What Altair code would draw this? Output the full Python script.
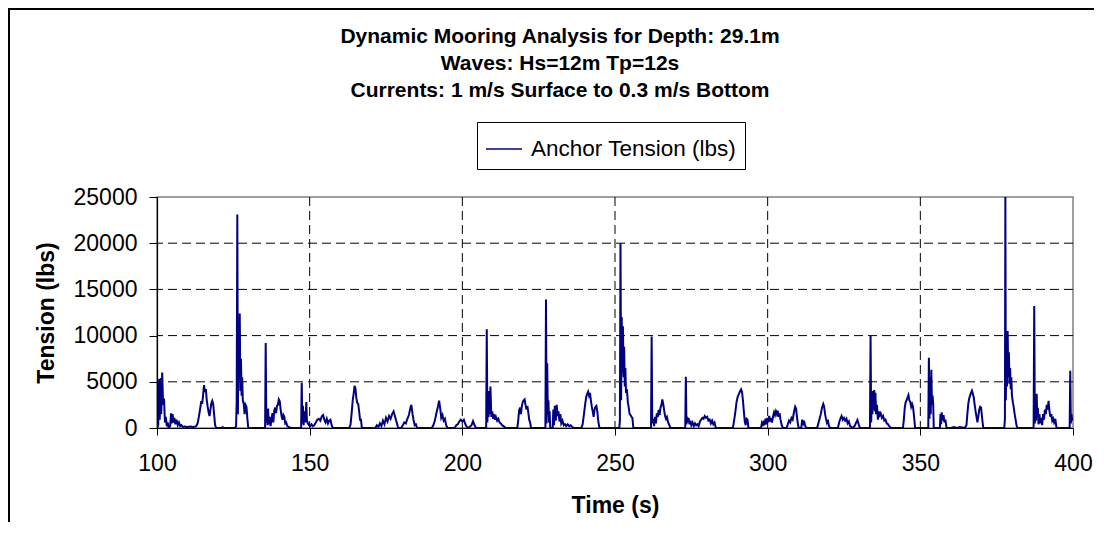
import altair as alt
import pandas as pd

# ---------------- data ----------------
series_name = "Anchor Tension (lbs)"
title_lines = [
    "Dynamic Mooring Analysis for Depth: 29.1m",
    "Waves: Hs=12m Tp=12s",
    "Currents: 1 m/s Surface to 0.3 m/s Bottom",
]
x_ticks = [100, 150, 200, 250, 300, 350, 400]
y_ticks = [0, 5000, 10000, 15000, 20000, 25000]
x_grid = [150, 200, 250, 300, 350]
y_grid = [5000, 10000, 15000, 20000]

# (time s, tension lbs) samples
samples = [
    (100.0, 0), (100.4, 300), (100.7, 5300), (100.9, 900), (101.2, 5400), (101.4, 1500), (101.7, 6000),
    (102.0, 2500), (102.3, 3200), (102.6, 600), (102.9, 1200), (103.2, 200), (103.5, 600), (103.8, 0),
    (104.3, 200), (104.6, 1600), (104.8, 500), (105.1, 1500), (105.4, 600), (105.7, 1100), (106.0, 400),
    (106.4, 900), (106.8, 300), (107.2, 600), (107.6, 200), (108.0, 300), (108.5, 100), (109.0, 150),
    (110.0, 100), (111.0, 150), (112.0, 100), (112.8, 200),
    (113.3, 500), (113.7, 1200), (114.1, 2000), (114.5, 2900), (114.8, 2600), (115.1, 3600), (115.4, 4650),
    (115.7, 3900), (116.0, 4200), (116.3, 3000), (116.6, 2300), (116.9, 1700), (117.2, 1300), (117.5, 2000),
    (117.8, 2700), (118.1, 2950), (118.4, 2600), (118.7, 1500), (119.0, 400), (119.3, 0), (121.0, 0),
    (121.5, 100), (122.0, 0), (125.5, 0),
    (125.9, 200), (126.1, 3000), (126.3, 23100), (126.5, 1500), (126.7, 10500), (126.9, 5200), (127.1, 12400),
    (127.3, 4000), (127.5, 7500), (127.7, 3500), (127.9, 5500), (128.1, 3000), (128.4, 2600), (128.7, 1500),
    (129.0, 2500), (129.3, 2300), (129.6, 1000), (129.9, 0), (135.4, 0),
    (135.6, 9200), (135.8, 600), (136.0, 2000), (136.2, 300), (136.4, 2100), (136.6, 400), (136.9, 1200),
    (137.2, 200), (137.5, 900), (137.8, 1600), (138.1, 600), (138.4, 1900), (138.7, 2200), (139.0, 1600),
    (139.3, 2400), (139.6, 2500), (139.9, 3100), (140.2, 2900), (140.5, 2000), (140.8, 1300), (141.1, 900),
    (141.4, 1400), (141.7, 1200), (142.0, 500), (142.3, 600), (142.7, 200), (143.2, 100), (144.0, 0),
    (147.2, 0),
    (147.4, 4900), (147.6, 500), (147.8, 2400), (148.0, 300), (148.3, 1800), (148.6, 600), (148.9, 2800),
    (149.1, 800), (149.4, 500), (149.8, 300), (150.2, 200), (150.6, 400), (151.0, 200), (151.5, 300),
    (152.0, 600), (152.5, 900), (153.0, 1000), (153.5, 800), (154.0, 1300), (154.4, 1400), (154.8, 900),
    (155.2, 600), (155.6, 1000), (156.0, 500), (156.4, 800), (156.8, 900), (157.2, 300), (157.6, 0),
    (163.0, 0), (163.4, 400), (163.8, 1800), (164.1, 3000), (164.4, 3700), (164.7, 4550), (165.0, 4300),
    (165.3, 3200), (165.6, 2700), (165.9, 2600), (166.2, 1800), (166.5, 900), (166.8, 900), (167.1, 0),
    (171.5, 0), (172.0, 300), (172.5, 100), (173.0, 500), (173.5, 200), (174.0, 800), (174.5, 400),
    (175.0, 1100), (175.5, 700), (176.0, 1300), (176.5, 1000), (177.0, 1500), (177.5, 1800), (178.0, 1200),
    (178.5, 600), (179.0, 0), (180.0, 0), (180.5, 300), (181.0, 600), (181.5, 500), (182.0, 1000),
    (182.5, 1400), (183.0, 2200), (183.3, 2500), (183.7, 1500), (184.0, 900), (184.4, 300), (184.8, 400),
    (185.2, 0), (190.0, 0), (190.5, 300), (191.0, 800), (191.5, 1600), (192.0, 2300), (192.4, 2950),
    (192.8, 2000), (193.1, 1100), (193.5, 1400), (193.9, 800), (194.3, 1000), (194.7, 300), (195.2, 0),
    (197.5, 0), (198.0, 300), (198.5, 400), (199.0, 700), (199.5, 900), (200.0, 700), (200.5, 900),
    (201.0, 400), (201.5, 100), (202.0, 0), (203.0, 300), (203.5, 750), (204.0, 300), (204.5, 0),
    (207.8, 0),
    (208.0, 10700), (208.2, 600), (208.4, 3000), (208.6, 1200), (208.8, 4000), (209.0, 1500), (209.2, 4500),
    (209.5, 1200), (209.8, 1800), (210.1, 1000), (210.4, 1500), (210.7, 900), (211.0, 1200), (211.4, 800),
    (211.8, 1000), (212.2, 600), (212.6, 500), (213.0, 300), (213.5, 200), (214.2, 0),
    (218.0, 0), (218.3, 800), (218.6, 1900), (218.9, 2200), (219.2, 1500), (219.5, 2400), (219.8, 2800),
    (220.1, 3000), (220.4, 3100), (220.7, 2500), (221.0, 2000), (221.3, 2400), (221.6, 1700), (221.9, 900),
    (222.2, 600), (222.5, 0), (227.2, 0),
    (227.4, 13900), (227.6, 500), (227.8, 7000), (228.0, 1500), (228.2, 3000), (228.4, 600), (228.6, 1800),
    (228.8, 0), (229.6, 0), (229.8, 2000), (230.0, 300), (230.3, 2400), (230.6, 800), (230.9, 2500),
    (231.2, 1300), (231.5, 1800), (231.8, 700), (232.1, 1500), (232.4, 500), (232.8, 800), (233.2, 300),
    (233.6, 400), (234.0, 200), (234.5, 400), (235.0, 200), (235.5, 300), (236.0, 100), (236.6, 0),
    (239.0, 0), (239.4, 400), (239.8, 1400), (240.2, 2500), (240.6, 3400), (240.9, 3700), (241.2, 3930),
    (241.5, 3500), (241.8, 3800), (242.1, 3000), (242.4, 2300), (242.7, 1800), (243.0, 1200), (243.3, 2000),
    (243.6, 2300), (243.9, 2400), (244.2, 1800), (244.5, 800), (244.9, 0), (251.4, 0),
    (251.6, 800), (251.8, 20000), (252.0, 3000), (252.2, 12000), (252.4, 6000), (252.6, 11000), (252.8, 5500),
    (253.0, 8800), (253.2, 4500), (253.4, 6500), (253.6, 3800), (253.9, 4200), (254.2, 2800), (254.5, 2200),
    (254.8, 1500), (255.1, 1400), (255.4, 1200), (255.7, 1100), (256.0, 0), (261.8, 0),
    (262.0, 9900), (262.2, 500), (262.5, 1000), (262.8, 200), (263.1, 1200), (263.4, 500), (263.7, 1600),
    (264.0, 1200), (264.3, 1950), (264.6, 1400), (264.9, 2200), (265.2, 2500), (265.5, 3100), (265.8, 2600),
    (266.1, 1900), (266.4, 1300), (266.7, 1000), (267.0, 1200), (267.4, 600), (267.8, 300), (268.2, 0),
    (273.0, 0), (273.2, 5550), (273.4, 400), (273.6, 1200), (273.8, 600), (274.1, 1100), (274.4, 400),
    (274.7, 800), (275.0, 300), (275.4, 600), (275.8, 200), (276.2, 500), (276.6, 300), (277.0, 400),
    (277.4, 200), (277.8, 700), (278.2, 900), (278.6, 1100), (279.0, 1000), (279.4, 1300), (279.8, 1100),
    (280.2, 1200), (280.6, 800), (281.0, 900), (281.4, 500), (281.8, 800), (282.2, 400), (282.6, 600),
    (283.0, 0),
    (288.6, 0), (289.0, 800), (289.4, 1700), (289.8, 2800), (290.2, 3400), (290.6, 3700), (291.0, 4000),
    (291.3, 4180), (291.6, 3900), (291.9, 3000), (292.2, 1800), (292.5, 700), (292.8, 300), (293.1, 1000),
    (293.4, 900), (293.7, 0), (297.8, 0), (298.1, 500), (298.4, 200), (298.7, 800), (299.0, 300),
    (299.3, 1000), (299.6, 400), (299.9, 1100), (300.2, 600), (300.5, 1300), (300.8, 700), (301.1, 1100),
    (301.4, 600), (301.8, 1300), (302.1, 1700), (302.4, 1400), (302.7, 1800), (303.0, 1500), (303.3, 1880),
    (303.6, 1200), (303.9, 1600), (304.2, 900), (304.6, 300), (305.0, 0), (306.2, 0), (306.6, 400),
    (307.0, 800), (307.4, 600), (307.8, 1100), (308.2, 900), (308.6, 1700), (309.0, 2300), (309.3, 2100),
    (309.6, 1200), (309.9, 400), (310.2, 0), (311.0, 0), (311.3, 900), (311.6, 300), (311.9, 800),
    (312.3, 200), (312.7, 0), (316.2, 0), (316.6, 500), (317.0, 1000), (317.4, 1500), (317.8, 2200),
    (318.2, 2600), (318.5, 2300), (318.8, 1500), (319.1, 1000), (319.4, 600), (319.7, 900), (320.0, 300),
    (320.4, 0), (323.0, 0), (323.4, 600), (323.8, 1000), (324.2, 1300), (324.6, 900), (325.0, 1100),
    (325.4, 800), (325.8, 1000), (326.2, 500), (326.6, 700), (327.0, 200), (327.5, 100), (328.0, 0),
    (328.6, 300), (329.0, 600), (329.4, 870), (329.8, 400), (330.2, 0), (333.5, 0),
    (333.7, 10000), (333.9, 600), (334.1, 3500), (334.3, 1500), (334.5, 4000), (334.7, 2000), (334.9, 4100),
    (335.1, 1800), (335.3, 3800), (335.5, 1500), (335.8, 2500), (336.1, 900), (336.4, 1800), (336.7, 1400),
    (337.0, 1600), (337.4, 1100), (337.8, 1300), (338.2, 800), (338.6, 900), (339.0, 500), (339.4, 400),
    (339.8, 200), (340.4, 0), (344.3, 0), (344.6, 900), (344.9, 2200), (345.2, 2800), (345.5, 3000),
    (345.8, 3300), (346.1, 3570), (346.4, 3000), (346.7, 2800), (347.0, 2300), (347.3, 2600), (347.6, 2300),
    (347.9, 1400), (348.3, 0), (352.6, 0), (352.8, 7600), (353.0, 1000), (353.2, 5500), (353.4, 1500),
    (353.6, 6300), (353.8, 2500), (354.0, 3500), (354.2, 2700), (354.4, 0), (356.4, 0), (356.6, 1500),
    (356.8, 400), (357.0, 1700), (357.3, 800), (357.6, 1400), (357.9, 600), (358.2, 900), (358.6, 0),
    (360.0, 0), (361.0, 100), (362.0, 0), (363.0, 100), (364.5, 0), (365.1, 300), (365.4, 1500),
    (365.7, 2600), (366.0, 3200), (366.3, 3500), (366.6, 3800), (366.9, 4040), (367.2, 3700), (367.5, 3300),
    (367.8, 2500), (368.1, 1800), (368.4, 1200), (368.7, 600), (369.0, 1300), (369.3, 2000), (369.6, 2300),
    (369.9, 2200), (370.2, 1200), (370.6, 0), (377.5, 0),
    (377.7, 1000), (377.85, 25000), (378.0, 3000), (378.2, 8000), (378.4, 4500), (378.6, 10500), (378.8, 5500),
    (379.0, 8200), (379.2, 4800), (379.4, 6500), (379.6, 4200), (379.8, 5500), (380.0, 3500), (380.3, 2800),
    (380.6, 2200), (380.9, 1500), (381.2, 900), (381.5, 300), (381.8, 0), (387.1, 0),
    (387.3, 13200), (387.5, 500), (387.7, 2500), (387.9, 800), (388.1, 3700), (388.3, 1200), (388.5, 2200),
    (388.7, 400), (389.0, 1500), (389.3, 500), (389.6, 1100), (389.9, 300), (390.2, 1500), (390.5, 900),
    (390.8, 2000), (391.1, 1500), (391.4, 2500), (391.7, 2000), (392.0, 2950), (392.3, 1800), (392.6, 1200),
    (392.9, 1500), (393.2, 800), (393.5, 1000), (393.8, 600), (394.2, 1000), (394.6, 0), (398.9, 0),
    (399.1, 6200), (399.3, 500), (399.5, 1500), (399.7, 800), (400.0, 1200),
]

# ---------------- chart ----------------
FONT = "Liberation Sans"
W, H = 916, 231
PAD_L, PAD_T = 149, 189

df = pd.DataFrame(samples, columns=["Time", "Tension"])
df["series"] = series_name

xscale = alt.Scale(domain=[100, 400], nice=False, zero=False)
yscale = alt.Scale(domain=[0, 25000], nice=False)

x_axis = alt.Axis(
    values=x_ticks, title="Time (s)", grid=False, tickSize=7, labelPadding=35, format="d",
    labelBaseline="alphabetic", labelFlush=False, labelOverlap=False,
    titleX=458, titleY=84, titleBaseline="alphabetic", titleAlign="center",
)
y_axis = alt.Axis(
    values=y_ticks, title="Tension (lbs)", grid=False, tickSize=8, labelPadding=12, format="d",
    labelFlush=False, labelOverlap=False,
    titleX=-104, titleY=115.5, titleAngle=270, titleBaseline="alphabetic", titleAlign="center",
)

grid_v = alt.Chart(pd.DataFrame({"Time": x_grid})).mark_rule(
    color="#000000", strokeWidth=1, strokeDash=[9, 5]
).encode(x=alt.X("Time:Q", scale=xscale, axis=x_axis))

grid_h = alt.Chart(pd.DataFrame({"Tension": y_grid})).mark_rule(
    color="#000000", strokeWidth=1, strokeDash=[9, 5]
).encode(y=alt.Y("Tension:Q", scale=yscale, axis=y_axis))

line = alt.Chart(df).mark_line(strokeWidth=2, clip=True).encode(
    x=alt.X("Time:Q", scale=xscale, axis=x_axis),
    y=alt.Y("Tension:Q", scale=yscale, axis=y_axis),
    color=alt.Color(
        "series:N",
        scale=alt.Scale(domain=[series_name], range=["#000080"]),
        legend=alt.Legend(
            title=None, orient="none", legendX=320, legendY=-75, direction="vertical",
            symbolType="stroke", symbolSize=1296, symbolStrokeWidth=1.5,
            labelFontSize=22.5, labelFont=FONT, labelColor="#000000", labelOffset=8, labelLimit=400,
            padding=8, strokeColor="#000000", fillColor="#ffffff",
        ),
    ),
)

title_y = [-154.3, -127.0, -100.3]
title_layers = [
    alt.Chart(pd.DataFrame({"t": [txt]})).mark_text(
        font=FONT, fontSize=21, fontWeight="bold", align="center", baseline="alphabetic", color="#000000"
    ).encode(text="t:N", x=alt.value(403), y=alt.value(yy))
    for txt, yy in zip(title_lines, title_y)
]

# outer chart frame: only its left and top edges fall inside the picture
frame = alt.Chart(pd.DataFrame({"f": [0]})).mark_rect(
    fill="transparent", stroke="#000000", strokeWidth=2
).encode(
    x=alt.value(-148), x2=alt.value(980), y=alt.value(-188), y2=alt.value(400)
)

chart = alt.layer(grid_v, grid_h, line, *title_layers, frame).properties(
    width=W, height=H,
    padding={"left": PAD_L, "top": PAD_T, "right": 21, "bottom": 94},
    autosize=alt.AutoSizeParams(type="none"),
    background="#ffffff",
).configure_view(
    stroke="#808080", strokeWidth=1.5
).configure_axis(
    labelFont=FONT, labelFontSize=23, labelColor="#000000",
    titleFont=FONT, titleFontSize=23, titleFontWeight="bold", titleColor="#000000",
    domainColor="#000000", domainWidth=1.2, tickColor="#000000", tickWidth=1,
).configure_legend(
    strokeWidth=1
)

chart.save("out.html", embed_options={"renderer": "svg", "actions": False})
